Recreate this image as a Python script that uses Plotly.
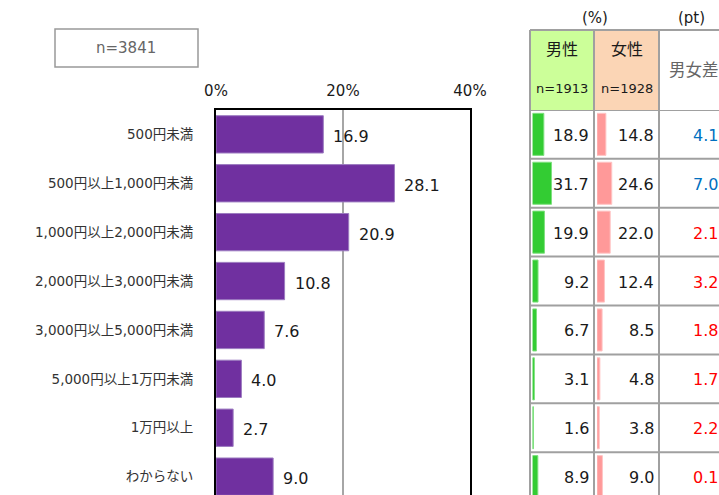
import plotly.graph_objects as go

categories = ["500円未満", "500円以上1,000円未満", "1,000円以上2,000円未満", "2,000円以上3,000円未満",
              "3,000円以上5,000円未満", "5,000円以上1万円未満", "1万円以上", "わからない"]
total = [16.9, 28.1, 20.9, 10.8, 7.6, 4.0, 2.7, 9.0]
male = [18.9, 31.7, 19.9, 9.2, 6.7, 3.1, 1.6, 8.9]
female = [14.8, 24.6, 22.0, 12.4, 8.5, 4.8, 3.8, 9.0]
diff = [4.1, 7.0, 2.1, 3.2, 1.8, 1.7, 2.2, 0.1]
x_ticks = [0, 20, 40]
x_ticklabels = ["0%", "20%", "40%"]
n_total = "n=3841"
n_male = "n=1913"
n_female = "n=1928"

W, H = 719, 495
def px(v): return v / W
def py(v): return 1 - v / H

FONT = "DejaVu Sans, Noto Sans CJK JP, sans-serif"
idx = list(range(len(categories)))
ROW = 48.9
TOP = 109.9
y_top = -0.5
y_bot = -0.5 + (H - TOP) / ROW

fig = go.Figure()
fig.add_trace(go.Bar(x=total, y=idx, orientation="h", width=0.763,
                     marker=dict(color="#7030A0", line=dict(color="#9C7BC0", width=1)),
                     xaxis="x", yaxis="y", hoverinfo="skip"))
fig.add_trace(go.Bar(x=male, y=idx, orientation="h", width=0.86,
                     marker=dict(color="#33CC33", line=dict(color="#7FE07F", width=1)),
                     xaxis="x2", yaxis="y", hoverinfo="skip"))
fig.add_trace(go.Bar(x=female, y=idx, orientation="h", width=0.86,
                     marker=dict(color="#FF9999", line=dict(color="#FFC4C4", width=1)),
                     xaxis="x3", yaxis="y", hoverinfo="skip"))

annotations = []
for i, v in enumerate(total):
    annotations.append(dict(x=v, y=i, xref="x", yref="y", text=f"{v:.1f}", showarrow=False,
                            xanchor="left", xshift=8, yshift=-2,
                            font=dict(family=FONT, size=16, color="#1a1a1a")))
for i in idx:
    annotations.append(dict(x=px(591), y=i, xref="paper", yref="y", text=f"{male[i]:.1f}",
                            showarrow=False, xanchor="right", yshift=-1,
                            font=dict(family=FONT, size=16, color="#1a1a1a")))
    annotations.append(dict(x=px(656), y=i, xref="paper", yref="y", text=f"{female[i]:.1f}",
                            showarrow=False, xanchor="right", yshift=-1,
                            font=dict(family=FONT, size=16, color="#1a1a1a")))
    col = "#0070C0" if male[i] > female[i] else "#FF0000"
    annotations.append(dict(x=px(720), y=i, xref="paper", yref="y", text=f"{diff[i]:.1f}",
                            showarrow=False, xanchor="right", yshift=-1,
                            font=dict(family=FONT, size=16, color=col)))

def tx(x, y, text, size, color="#1a1a1a", anchor="center"):
    annotations.append(dict(x=px(x), y=py(y), xref="paper", yref="paper", text=text,
                            showarrow=False, xanchor=anchor, yanchor="middle",
                            font=dict(family=FONT, size=size, color=color)))

tx(126, 48, n_total, 15, "#666666")
tx(562, 50, "男性", 16)
tx(562, 88, n_male, 13)
tx(627, 50, "女性", 16)
tx(627, 88, n_female, 13)
tx(667, 70, "男女差", 16.5, "#666666", "left")
tx(595, 18, "(%)", 15)
tx(691, 18, "(pt)", 15)

shapes = []
GRID = "#A0A0A0"
shapes.append(dict(type="rect", xref="paper", yref="paper", x0=px(55), x1=px(198), y0=py(29), y1=py(67),
                   line=dict(color="#999999", width=1.5)))
shapes.append(dict(type="rect", xref="paper", yref="paper", x0=px(530), x1=px(594), y0=py(30), y1=py(TOP),
                   fillcolor="#CCFF99", line=dict(width=0), layer="below"))
shapes.append(dict(type="rect", xref="paper", yref="paper", x0=px(594), x1=px(659), y0=py(30), y1=py(TOP),
                   fillcolor="#FBD5B5", line=dict(width=0), layer="below"))
shapes.append(dict(type="line", xref="paper", yref="paper", x0=px(530), x1=1, y0=py(30), y1=py(30),
                   line=dict(color=GRID, width=2)))
for k in range(len(categories)):
    yb = k - 0.5
    shapes.append(dict(type="line", xref="paper", yref="y", x0=px(530), x1=1, y0=yb, y1=yb,
                       line=dict(color=GRID, width=2)))
for xv in (530, 594, 659):
    shapes.append(dict(type="line", xref="paper", yref="paper", x0=px(xv), x1=px(xv), y0=py(30), y1=0,
                       line=dict(color=GRID, width=2)))

fig.update_layout(
    template="none",
    width=W, height=H, margin=dict(l=0, r=0, t=0, b=0, autoexpand=False),
    paper_bgcolor="white", plot_bgcolor="rgba(0,0,0,0)",
    showlegend=False, font=dict(family=FONT),
    xaxis=dict(domain=[px(216), px(470)], range=[0, 40], side="top", tickvals=x_ticks,
               ticktext=x_ticklabels, tickfont=dict(family=FONT, size=15, color="#1a1a1a"),
               showgrid=True, gridcolor="#A6A6A6", gridwidth=1.5, zeroline=False,
               showline=True, linecolor="black", linewidth=2, ticks="", ticklabelstandoff=6,
               automargin=False, fixedrange=True),
    yaxis=dict(domain=[0, py(TOP)], range=[y_bot, y_top], tickvals=idx, ticktext=categories,
               tickfont=dict(family=FONT, size=13.5, color="#333333"), showgrid=False, zeroline=False,
               showline=True, mirror=True, linecolor="black", linewidth=2, ticks="",
               ticklabelstandoff=18, automargin=False, fixedrange=True),
    xaxis2=dict(domain=[px(532.5), px(592.5)], range=[0, 100], anchor="y", visible=False,
                automargin=False, fixedrange=True),
    xaxis3=dict(domain=[px(597), px(657)], range=[0, 100], anchor="y", visible=False,
                automargin=False, fixedrange=True),
    shapes=shapes, annotations=annotations,
)

fig.write_html("out.html", config={"displayModeBar": False},
               post_script="document.body.style.margin='0';"
                           "document.documentElement.style.overflow='hidden';")
